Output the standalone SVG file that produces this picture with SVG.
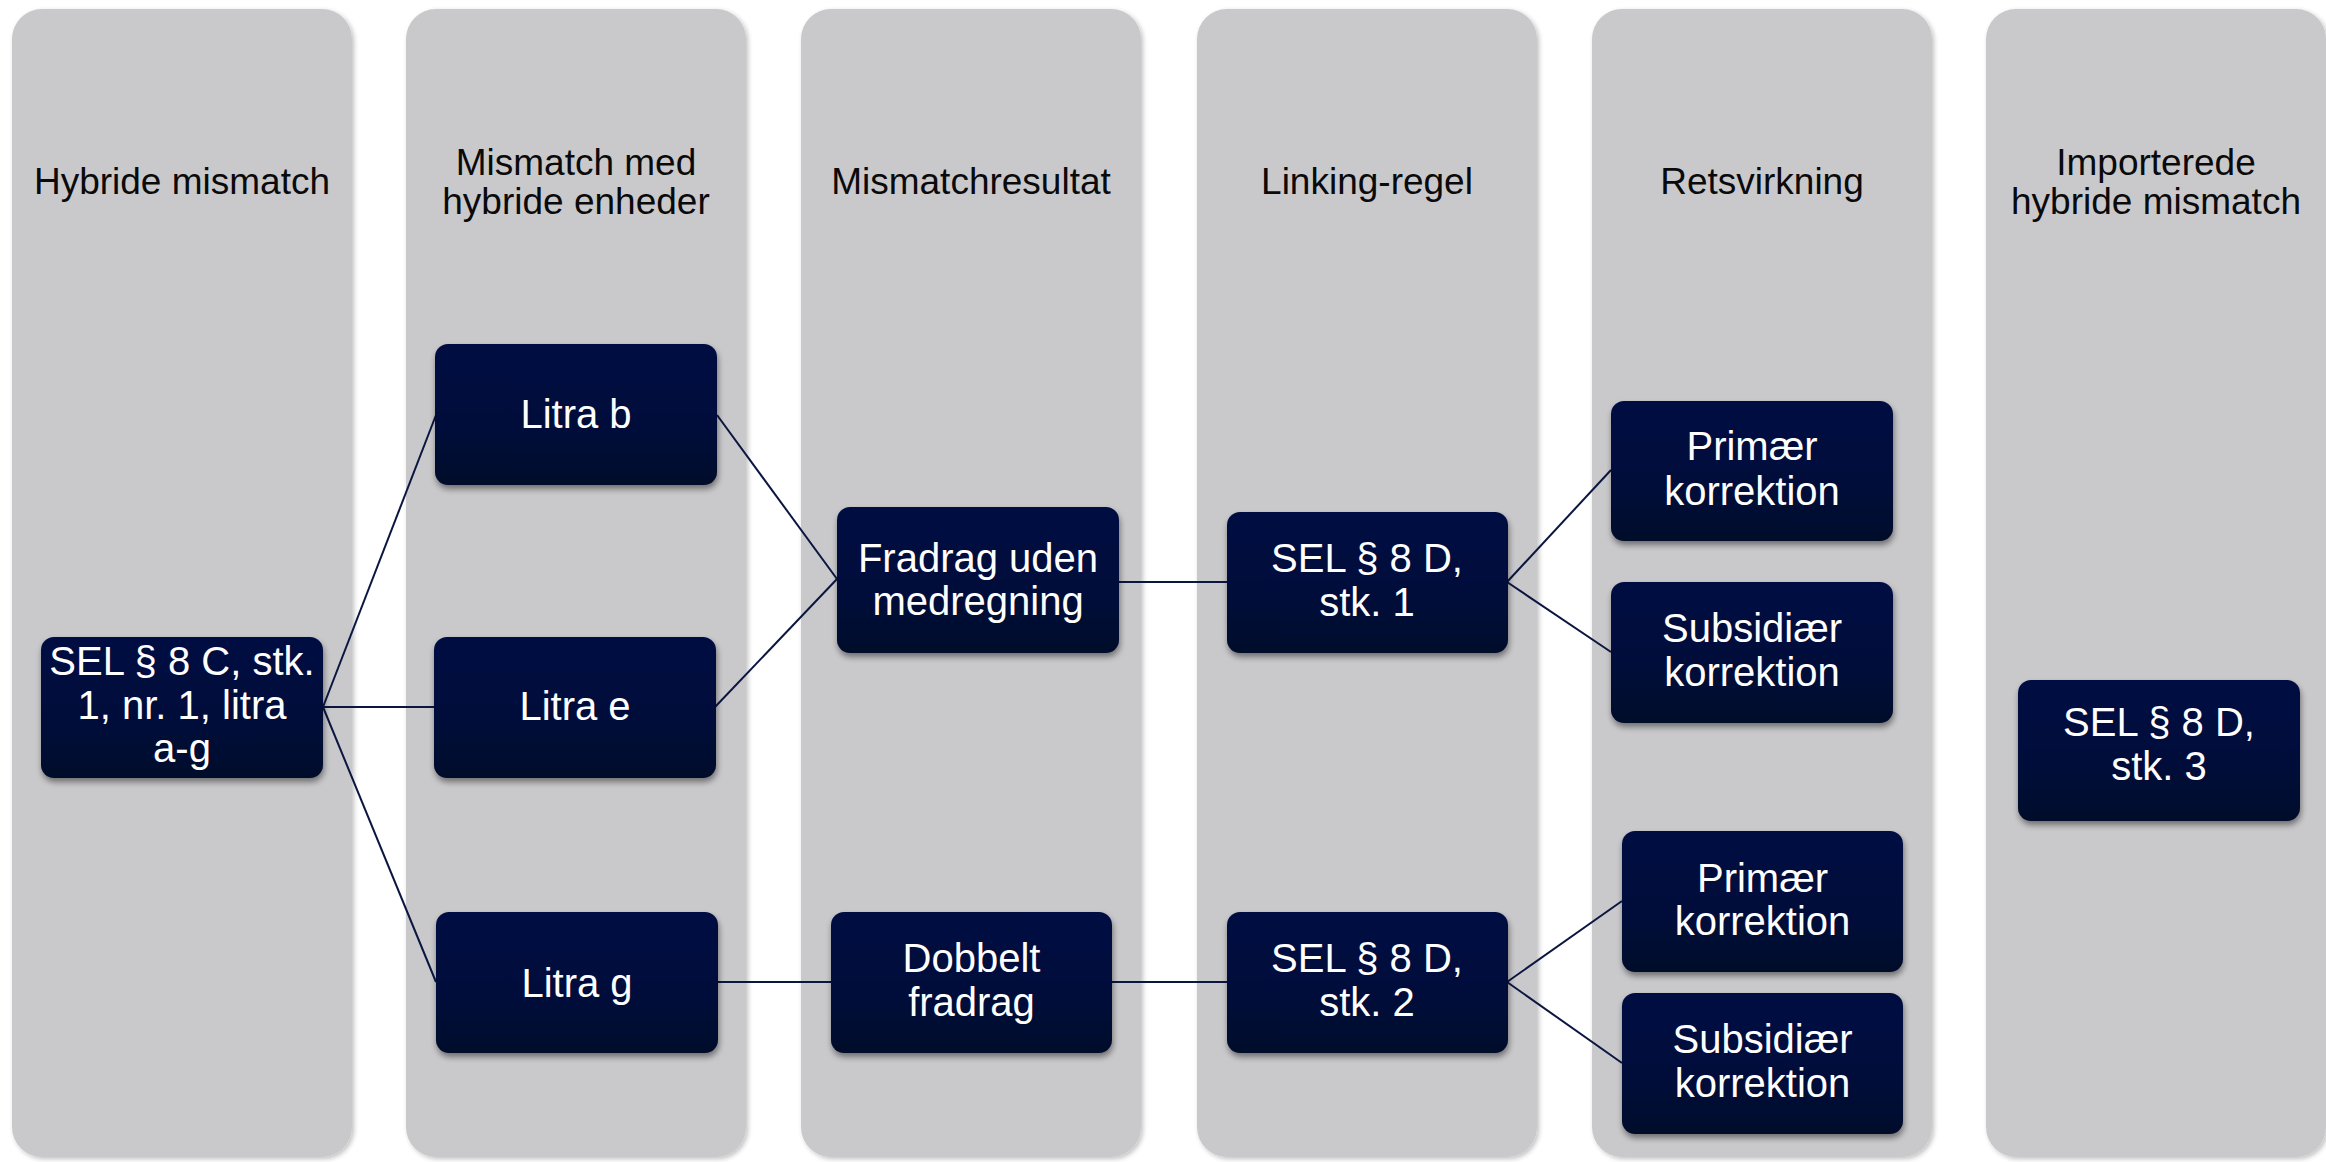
<svg xmlns="http://www.w3.org/2000/svg" width="2326" height="1162" viewBox="0 0 2326 1162">
<style>
.col{fill:#c9c9cc;filter:url(#colsh)}
.hdr{font-family:"Liberation Sans",Arial,sans-serif;font-size:37px;fill:#0a0a0a;text-anchor:middle}
.box{fill:url(#navy);filter:url(#nodesh)}
.lbl{font-family:"Liberation Sans",Arial,sans-serif;font-size:40px;fill:#ffffff;text-anchor:middle}
.edge{stroke:#0b1640;stroke-width:2;fill:none}
</style>
<defs>
<linearGradient id="navy" x1="0" y1="0" x2="0" y2="1">
<stop offset="0" stop-color="#001142"/>
<stop offset="0.6" stop-color="#000e3a"/>
<stop offset="1" stop-color="#00092a"/>
</linearGradient>
<filter id="nodesh" x="-10%" y="-10%" width="120%" height="130%">
<feGaussianBlur in="SourceAlpha" stdDeviation="3"/>
<feOffset dx="1" dy="4" result="b"/>
<feComponentTransfer><feFuncA type="linear" slope="0.45"/></feComponentTransfer>
<feMerge><feMergeNode/><feMergeNode in="SourceGraphic"/></feMerge>
</filter>
<filter id="colsh" x="-5%" y="-2%" width="110%" height="104%">
<feGaussianBlur in="SourceAlpha" stdDeviation="2.5"/>
<feOffset dx="2" dy="2" result="b"/>
<feComponentTransfer><feFuncA type="linear" slope="0.25"/></feComponentTransfer>
<feMerge><feMergeNode/><feMergeNode in="SourceGraphic"/></feMerge>
</filter>
</defs>
<rect width="2326" height="1162" fill="#ffffff"/>

<g id="columns">
<g id="col1"><rect class="col" x="12" y="9" width="340" height="1148" rx="30"/><text class="hdr" x="182" y="194">Hybride mismatch</text></g>
<g id="col2"><rect class="col" x="406" y="9" width="340" height="1148" rx="30"/><text class="hdr" x="576" y="175">Mismatch med</text><text class="hdr" x="576" y="214">hybride enheder</text></g>
<g id="col3"><rect class="col" x="801" y="9" width="340" height="1148" rx="30"/><text class="hdr" x="971" y="194">Mismatchresultat</text></g>
<g id="col4"><rect class="col" x="1197" y="9" width="340" height="1148" rx="30"/><text class="hdr" x="1367" y="194">Linking-regel</text></g>
<g id="col5"><rect class="col" x="1592" y="9" width="340" height="1148" rx="30"/><text class="hdr" x="1762" y="194">Retsvirkning</text></g>
<g id="col6"><rect class="col" x="1986" y="9" width="340" height="1148" rx="30"/><text class="hdr" x="2156" y="175">Importerede</text><text class="hdr" x="2156" y="214">hybride mismatch</text></g>
</g>

<g id="connectors">
<line class="edge" x1="323" y1="707" x2="436" y2="415"/>
<line class="edge" x1="323" y1="707" x2="434" y2="707"/>
<line class="edge" x1="323" y1="707" x2="436" y2="982"/>
<line class="edge" x1="717" y1="415" x2="837" y2="579"/>
<line class="edge" x1="715" y1="707" x2="837" y2="579"/>
<line class="edge" x1="717" y1="982" x2="831" y2="982"/>
<line class="edge" x1="1119" y1="582" x2="1227" y2="582"/>
<line class="edge" x1="1112" y1="982" x2="1227" y2="982"/>
<line class="edge" x1="1507" y1="582" x2="1611" y2="470"/>
<line class="edge" x1="1507" y1="582" x2="1611" y2="652"/>
<line class="edge" x1="1507" y1="982" x2="1622" y2="901"/>
<line class="edge" x1="1507" y1="982" x2="1622" y2="1063"/>
</g>

<g id="n-sel8c"><rect class="box" x="41" y="637" width="282" height="141" rx="13"/>
<text class="lbl" x="182" y="675">SEL § 8 C, stk.</text><text class="lbl" x="182" y="719">1, nr. 1, litra</text><text class="lbl" x="182" y="762">a-g</text></g>

<g id="n-litrab"><rect class="box" x="435" y="344" width="282" height="141" rx="13"/><text class="lbl" x="576" y="428">Litra b</text></g>
<g id="n-litrae"><rect class="box" x="434" y="637" width="282" height="141" rx="13"/><text class="lbl" x="575" y="720">Litra e</text></g>
<g id="n-litrag"><rect class="box" x="436" y="912" width="282" height="141" rx="13"/><text class="lbl" x="577" y="997">Litra g</text></g>

<g id="n-fradrag"><rect class="box" x="837" y="507" width="282" height="146" rx="13"/>
<text class="lbl" x="978" y="572">Fradrag uden</text><text class="lbl" x="978" y="615">medregning</text></g>
<g id="n-dobbelt"><rect class="box" x="831" y="912" width="281" height="141" rx="13"/>
<text class="lbl" x="971.5" y="972">Dobbelt</text><text class="lbl" x="971.5" y="1016">fradrag</text></g>

<g id="n-sel8d1"><rect class="box" x="1227" y="512" width="281" height="141" rx="13"/>
<text class="lbl" x="1367" y="572">SEL § 8 D,</text><text class="lbl" x="1367" y="616">stk. 1</text></g>
<g id="n-sel8d2"><rect class="box" x="1227" y="912" width="281" height="141" rx="13"/>
<text class="lbl" x="1367" y="972">SEL § 8 D,</text><text class="lbl" x="1367" y="1016">stk. 2</text></g>

<g id="n-primaer1"><rect class="box" x="1611" y="401" width="282" height="140" rx="13"/>
<text class="lbl" x="1752" y="460">Primær</text><text class="lbl" x="1752" y="505">korrektion</text></g>
<g id="n-subsidiaer1"><rect class="box" x="1611" y="582" width="282" height="141" rx="13"/>
<text class="lbl" x="1752" y="642">Subsidiær</text><text class="lbl" x="1752" y="686">korrektion</text></g>
<g id="n-primaer2"><rect class="box" x="1622" y="831" width="281" height="141" rx="13"/>
<text class="lbl" x="1762.5" y="892">Primær</text><text class="lbl" x="1762.5" y="935">korrektion</text></g>
<g id="n-subsidiaer2"><rect class="box" x="1622" y="993" width="281" height="141" rx="13"/>
<text class="lbl" x="1762.5" y="1053">Subsidiær</text><text class="lbl" x="1762.5" y="1097">korrektion</text></g>

<g id="n-sel8d3"><rect class="box" x="2018" y="680" width="282" height="141" rx="13"/>
<text class="lbl" x="2159" y="736">SEL § 8 D,</text><text class="lbl" x="2159" y="780">stk. 3</text></g>
</svg>
